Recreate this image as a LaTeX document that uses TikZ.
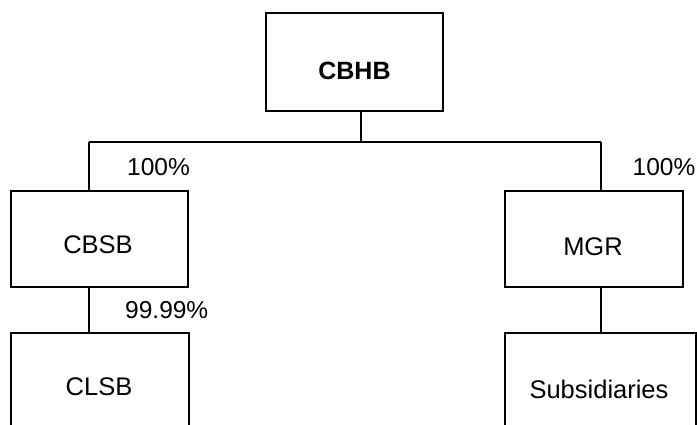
\documentclass[tikz,border=0pt]{standalone}
\usepackage{fontspec}
\setmainfont{Liberation Sans}
\begin{document}
\begin{tikzpicture}[x=1pt,y=-1pt,
  box/.style={draw,line width=2pt,inner sep=0pt,anchor=north west},
  lbl/.style={font=\fontsize{25.5}{30}\selectfont,inner sep=0pt},
  pct/.style={font=\fontsize{24.5}{29}\selectfont,inner sep=0pt,anchor=west},
  link/.style={line width=2pt}]
\useasboundingbox (0,0) rectangle (697,425);
\clip (0,0) rectangle (697,425);
\fill[white] (0,0) rectangle (697,425);
% boxes
\node[box,minimum width=177pt,minimum height=98pt] (cbhb) at (265,12) {};
\node[box,minimum width=177pt,minimum height=96pt] (cbsb) at (10,190) {};
\node[box,minimum width=178pt,minimum height=120pt] (clsb) at (10,332) {};
\node[box,minimum width=178pt,minimum height=96pt] (mgr) at (504,190) {};
\node[box,minimum width=191pt,minimum height=120pt] (subs) at (504,332) {};
% labels
\node[lbl,font=\fontsize{25}{30}\selectfont\bfseries] at (cbhb.center) [yshift=-9pt] {CBHB};
\node[lbl] at (98,245) {CBSB};
\node[lbl] at (593,247) {MGR};
\node[lbl] at (99,387) {CLSB};
\node[lbl] at (599,389) {Subsidiaries};
% connectors
\coordinate (ct) at (361,0);
\coordinate (cl) at (89,0);
\coordinate (cr) at (601,0);
\coordinate (j) at (ct |- 0,142);
\coordinate (jl) at (cl |- j);
\coordinate (jr) at (cr |- j);
\draw[link] (ct |- cbhb.south) -- (j);
\draw[link] (jl) -- (jr);
\draw[link] (jl) -- (cl |- cbsb.north);
\draw[link] (jr) -- (cr |- mgr.north);
\draw[link] (cl |- cbsb.south) -- (cl |- clsb.north);
\draw[link] (cr |- mgr.south) -- (cr |- subs.north);
% percentages
\node[pct] (p1) at (127,167) {100\%};
\node[pct] (p2) at (125,310) {99.99\%};
\node[pct,anchor=east] (p3) at (695.5,167) {100\%};
\end{tikzpicture}
\end{document}
